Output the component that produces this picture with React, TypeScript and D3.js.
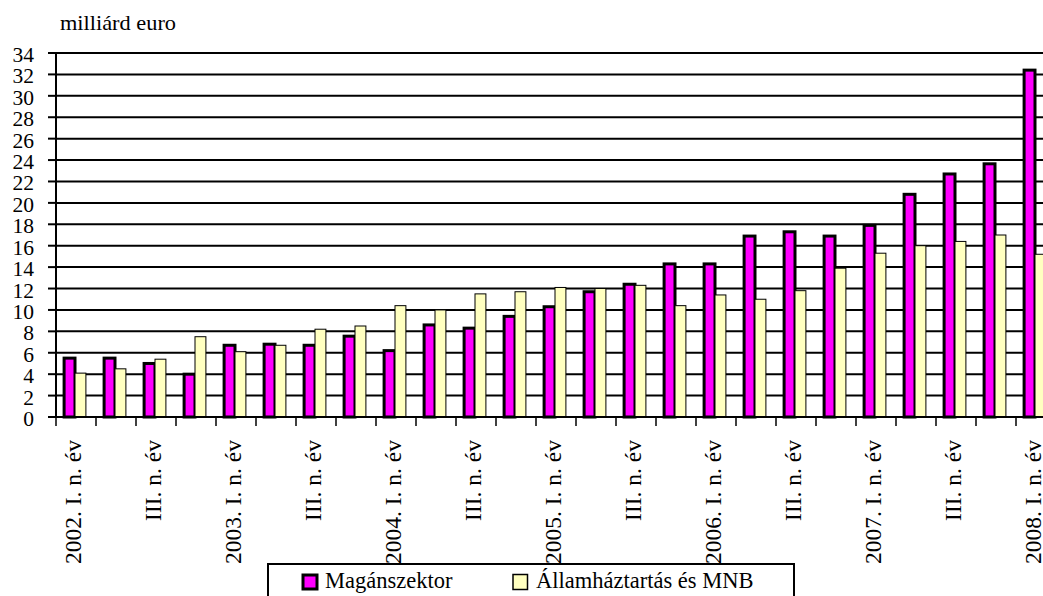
import React from "react";
import * as d3 from "d3";

const categories = [
  "2002. I. n. év", "2002. II. n. év", "2002. III. n. év", "2002. IV. n. év",
  "2003. I. n. év", "2003. II. n. év", "2003. III. n. év", "2003. IV. n. év",
  "2004. I. n. év", "2004. II. n. év", "2004. III. n. év", "2004. IV. n. év",
  "2005. I. n. év", "2005. II. n. év", "2005. III. n. év", "2005. IV. n. év",
  "2006. I. n. év", "2006. II. n. év", "2006. III. n. év", "2006. IV. n. év",
  "2007. I. n. év", "2007. II. n. év", "2007. III. n. év", "2007. IV. n. év",
  "2008. I. n. év",
];

const tickLabels = [
  "2002. I. n. év", "", "III. n. év", "",
  "2003. I. n. év", "", "III. n. év", "",
  "2004. I. n. év", "", "III. n. év", "",
  "2005. I. n. év", "", "III. n. év", "",
  "2006. I. n. év", "", "III. n. év", "",
  "2007. I. n. év", "", "III. n. év", "",
  "2008. I. n. év",
];

const maganszektor = [
  5.5, 5.5, 5.0, 4.0, 6.7, 6.8, 6.7, 7.55, 6.2, 8.6, 8.3, 9.4, 10.3,
  11.7, 12.4, 14.3, 14.3, 16.9, 17.3, 16.9, 17.9, 20.8, 22.7, 23.65, 32.4,
];

const allamhaztartas = [
  4.1, 4.5, 5.4, 7.5, 6.1, 6.7, 8.2, 8.5, 10.4, 10.0, 11.5, 11.7, 12.1,
  12.0, 12.3, 10.4, 11.4, 11.0, 11.8, 13.9, 15.3, 16.0, 16.4, 17.0, 15.2,
];

const yTicks = d3.range(0, 35, 2);
const seriesNames = ["Magánszektor", "Államháztartás és MNB"];

const FONT = "Liberation Serif";

export default function App() {
  const W = 1043;
  const H = 596;
  const x = d3.scaleBand<string>().domain(categories).range([56, 1056]).padding(0);
  const y = d3.scaleLinear().domain([0, 34]).range([417, 53]);
  const inner = d3
    .scaleBand<string>()
    .domain(["m", "a"])
    .range([-1, 39])
    .paddingInner(0)
    .paddingOuter(0.835);
  const bw = inner.bandwidth();
  const ts = { fontFamily: FONT };

  return (
    <svg
      width={W}
      height={H}
      style={{ position: "fixed", left: 0, top: 0, background: "#fff", fontFamily: FONT }}
    >
      <rect x={0} y={0} width={W} height={H} fill="#fff" />
      <text x={60} y={30} fontSize={22} fill="#000" style={ts} textLength={116} lengthAdjust="spacingAndGlyphs">
        milliárd euro
      </text>

      {/* gridlines */}
      {yTicks.map((t) => (
        <line key={"g" + t} x1={56} x2={1056} y1={y(t)} y2={y(t)} stroke="#000" strokeWidth={2} />
      ))}

      {/* y ticks & labels */}
      {yTicks.map((t) => (
        <g key={"yt" + t}>
          <line x1={48} x2={56} y1={y(t)} y2={y(t)} stroke="#000" strokeWidth={2} />
          <text
            x={34}
            y={y(t) + 9}
            textAnchor="end"
            fontSize={21.5}
            fill="#000"
            style={ts}
          >
            {t}
          </text>
        </g>
      ))}

      {/* bars: series 1 */}
      {categories.map((c, i) => (
        <rect
          key={"m" + i}
          x={(x(c) as number) + (inner("m") as number)}
          y={y(maganszektor[i])}
          width={bw}
          height={y(0) - y(maganszektor[i])}
          fill="#FF00FF"
          stroke="#000"
          strokeWidth={3}
        />
      ))}
      {/* bars: series 2 */}
      {categories.map((c, i) => (
        <rect
          key={"a" + i}
          x={(x(c) as number) + (inner("a") as number)}
          y={y(allamhaztartas[i])}
          width={bw}
          height={y(0) - y(allamhaztartas[i])}
          fill="#FFFFC0"
          stroke="#000"
          strokeWidth={1}
        />
      ))}

      {/* axes */}
      <line x1={56} x2={56} y1={y(34)} y2={y(0)} stroke="#000" strokeWidth={2} />
      <line x1={56} x2={1056} y1={y(0)} y2={y(0)} stroke="#000" strokeWidth={2} />
      {d3.range(categories.length + 1).map((i) => {
        const xx = 56 + i * x.step();
        return <line key={"xt" + i} x1={xx} x2={xx} y1={y(0)} y2={y(0) + 9} stroke="#000" strokeWidth={1.5} />;
      })}

      {/* x labels */}
      {categories.map((c, i) =>
        tickLabels[i] ? (
          <text
            key={"xl" + i}
            transform={`translate(${(x(c) as number) + x.bandwidth() / 2 + 5},440) rotate(-90)`}
            textAnchor="end"
            fontSize={23.5}
            fill="#000"
            style={ts}
          >
            {tickLabels[i]}
          </text>
        ) : null
      )}

      {/* legend */}
      <rect x={268} y={564} width={526} height={50} fill="#fff" stroke="#000" strokeWidth={2} />
      <rect x={303} y={575} width={14} height={14} fill="#FF00FF" stroke="#000" strokeWidth={3} />
      <text x={325} y={588} fontSize={22.5} fill="#000" style={ts}>
        {seriesNames[0]}
      </text>
      <rect x={513} y={574.5} width={14.5} height={15} fill="#FFFFC0" stroke="#000" strokeWidth={1.5} />
      <text x={536} y={588} fontSize={22.5} fill="#000" style={ts}>
        {seriesNames[1]}
      </text>
    </svg>
  );
}
